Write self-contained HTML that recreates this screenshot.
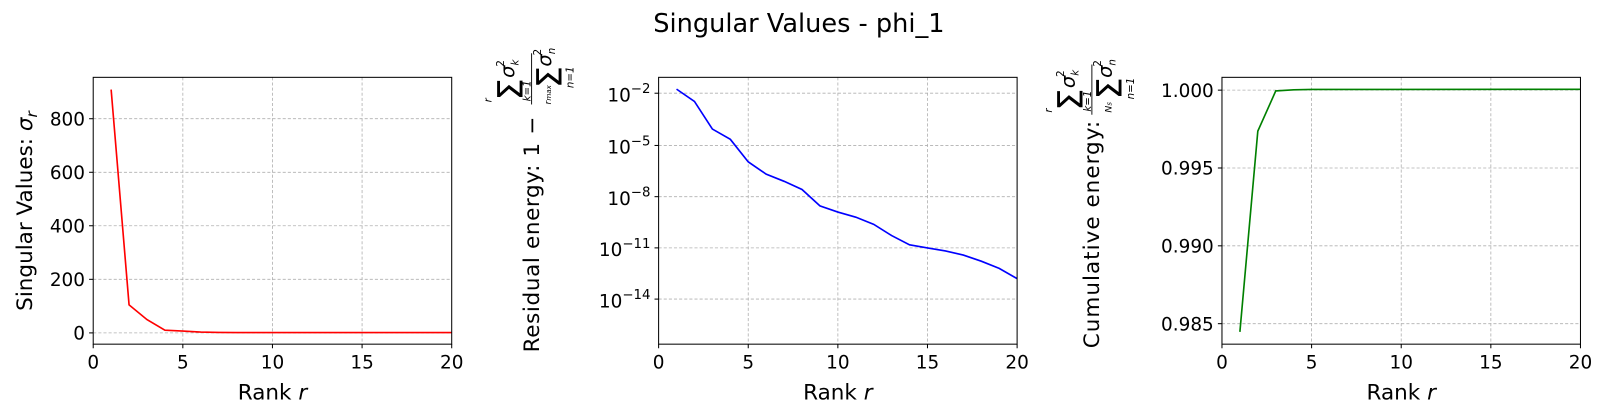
<!DOCTYPE html>
<html><head><meta charset="utf-8"><style>
html,body{margin:0;padding:0;background:#fff;}
svg{display:block;font-family:"DejaVu Sans","Liberation Sans",sans-serif;}
.t{font-size:18px;fill:#000}
.g{stroke:#b0b0b0;stroke-width:0.8;stroke-dasharray:3,2;fill:none}
.ax{stroke:#000;stroke-width:1;fill:none}
.lb{font-size:21px;fill:#000}
</style></head><body>
<svg width="1603" height="413" viewBox="0 0 1565 403.2" xmlns="http://www.w3.org/2000/svg">
<text x="780" y="31" text-anchor="middle" font-size="25">Singular Values - phi_1</text>

<!-- Panel 1 -->
<g>
<line class="g" x1="91" y1="325" x2="441" y2="325"/>
<line class="g" x1="91" y1="272.7" x2="441" y2="272.7"/>
<line class="g" x1="91" y1="220.4" x2="441" y2="220.4"/>
<line class="g" x1="91" y1="168.2" x2="441" y2="168.2"/>
<line class="g" x1="91" y1="115.9" x2="441" y2="115.9"/>
<line class="g" x1="178.5" y1="75.5" x2="178.5" y2="336"/>
<line class="g" x1="266" y1="75.5" x2="266" y2="336"/>
<line class="g" x1="353.5" y1="75.5" x2="353.5" y2="336"/>
<polyline fill="none" stroke="#ff0000" stroke-width="1.6" points="108.5,87.4 126,297.6 143.5,312 161,322.4 178.5,323.2 196,324.2 213.5,324.6 231,324.7 248.5,324.7 266,324.7 283.5,324.7 301,324.7 318.5,324.7 336,324.7 353.5,324.7 371,324.7 388.5,324.7 406,324.7 423.5,324.7 441,324.7"/>
<rect class="ax" x="91" y="75.5" width="350" height="260.5"/>
<g stroke="#000"><line x1="91" y1="336" x2="91" y2="340"/><line x1="178.5" y1="336" x2="178.5" y2="340"/><line x1="266" y1="336" x2="266" y2="340"/><line x1="353.5" y1="336" x2="353.5" y2="340"/><line x1="441" y1="336" x2="441" y2="340"/>
<line x1="87" y1="325" x2="91" y2="325"/><line x1="87" y1="272.7" x2="91" y2="272.7"/><line x1="87" y1="220.4" x2="91" y2="220.4"/><line x1="87" y1="168.2" x2="91" y2="168.2"/><line x1="87" y1="115.9" x2="91" y2="115.9"/></g>
<g class="t" text-anchor="middle"><text x="91" y="360">0</text><text x="178.5" y="360">5</text><text x="266" y="360">10</text><text x="353.5" y="360">15</text><text x="441" y="360">20</text></g>
<g class="t" text-anchor="end"><text x="83" y="331.5">0</text><text x="83" y="279.2">200</text><text x="83" y="226.9">400</text><text x="83" y="174.7">600</text><text x="83" y="122.4">800</text></g>
<text class="lb" x="266" y="390" text-anchor="middle">Rank <tspan font-style="italic">r</tspan></text>
<text class="lb" transform="translate(31,206) rotate(-90)" text-anchor="middle">Singular Values: <tspan font-style="italic">σ</tspan><tspan font-style="italic" font-size="15" dy="5">r</tspan></text>
</g>

<!-- Panel 2 -->
<g>
<line class="g" x1="643" y1="91" x2="993" y2="91"/>
<line class="g" x1="643" y1="142" x2="993" y2="142"/>
<line class="g" x1="643" y1="192" x2="993" y2="192"/>
<line class="g" x1="643" y1="242" x2="993" y2="242"/>
<line class="g" x1="643" y1="292" x2="993" y2="292"/>
<line class="g" x1="730.5" y1="75.5" x2="730.5" y2="336"/>
<line class="g" x1="818" y1="75.5" x2="818" y2="336"/>
<line class="g" x1="905.5" y1="75.5" x2="905.5" y2="336"/>
<polyline fill="none" stroke="#0000ff" stroke-width="1.6" points="660.5,87 678,99 695.5,126 713,136 730.5,158 748,170 765.5,177 783,185 800.5,201 818,207 835.5,212 853,219 870.5,230 888,239 905.5,242 923,245 940.5,249 958,255 975.5,262 993,272"/>
<rect class="ax" x="643" y="75.5" width="350" height="260.5"/>
<g stroke="#000"><line x1="643" y1="336" x2="643" y2="340"/><line x1="730.5" y1="336" x2="730.5" y2="340"/><line x1="818" y1="336" x2="818" y2="340"/><line x1="905.5" y1="336" x2="905.5" y2="340"/><line x1="993" y1="336" x2="993" y2="340"/>
<line x1="639" y1="91" x2="643" y2="91"/><line x1="639" y1="142" x2="643" y2="142"/><line x1="639" y1="192" x2="643" y2="192"/><line x1="639" y1="242" x2="643" y2="242"/><line x1="639" y1="292" x2="643" y2="292"/></g>
<g class="t" text-anchor="middle"><text x="643" y="360">0</text><text x="730.5" y="360">5</text><text x="818" y="360">10</text><text x="905.5" y="360">15</text><text x="993" y="360">20</text></g>
<g class="t" text-anchor="end">
<text x="635" y="99">10<tspan font-size="13" dy="-8">−2</tspan></text>
<text x="635" y="150">10<tspan font-size="13" dy="-8">−5</tspan></text>
<text x="635" y="200">10<tspan font-size="13" dy="-8">−8</tspan></text>
<text x="635" y="250">10<tspan font-size="13" dy="-8">−11</tspan></text>
<text x="635" y="300">10<tspan font-size="13" dy="-8">−14</tspan></text>
</g>
<text class="lb" x="818" y="390" text-anchor="middle">Rank <tspan font-style="italic">r</tspan></text>
<g transform="translate(526,344) rotate(-90)">
<text class="lb" x="0" y="0" textLength="230">Residual energy: 1 −</text>
<line x1="242" y1="-7" x2="292" y2="-7" stroke="#000" stroke-width="0.9"/>
<text x="246" y="-16" font-size="34">Σ</text>
<text x="244" y="-46" font-size="10" font-style="italic">r</text>
<text x="245" y="-8" font-size="10" font-style="italic">k=1</text>
<text x="268" y="-24" font-size="19" font-style="italic">σ</text>
<text x="279" y="-34" font-size="10">2</text>
<text x="280" y="-20" font-size="10" font-style="italic">k</text>
<text x="258" y="22" font-size="34">Σ</text>
<text x="242" y="12" font-size="9" font-style="italic">r<tspan font-size="7">max</tspan></text>
<text x="258" y="34" font-size="10" font-style="italic">n=1</text>
<text x="279" y="12" font-size="19" font-style="italic">σ</text>
<text x="290" y="2" font-size="10">2</text>
<text x="291" y="16" font-size="10" font-style="italic">n</text>
</g>
</g>

<!-- Panel 3 -->
<g>
<line class="g" x1="1193" y1="88" x2="1543" y2="88"/>
<line class="g" x1="1193" y1="164" x2="1543" y2="164"/>
<line class="g" x1="1193" y1="240" x2="1543" y2="240"/>
<line class="g" x1="1193" y1="316" x2="1543" y2="316"/>
<line class="g" x1="1280.5" y1="75.5" x2="1280.5" y2="336"/>
<line class="g" x1="1368" y1="75.5" x2="1368" y2="336"/>
<line class="g" x1="1455.5" y1="75.5" x2="1455.5" y2="336"/>
<polyline fill="none" stroke="#008000" stroke-width="1.6" points="1210.5,324 1228,128 1245.5,88.8 1263,87.7 1280.5,87.3 1543,87.2"/>
<rect class="ax" x="1193" y="75.5" width="350" height="260.5"/>
<g stroke="#000"><line x1="1193" y1="336" x2="1193" y2="340"/><line x1="1280.5" y1="336" x2="1280.5" y2="340"/><line x1="1368" y1="336" x2="1368" y2="340"/><line x1="1455.5" y1="336" x2="1455.5" y2="340"/><line x1="1543" y1="336" x2="1543" y2="340"/>
<line x1="1189" y1="88" x2="1193" y2="88"/><line x1="1189" y1="164" x2="1193" y2="164"/><line x1="1189" y1="240" x2="1193" y2="240"/><line x1="1189" y1="316" x2="1193" y2="316"/></g>
<g class="t" text-anchor="middle"><text x="1193" y="360">0</text><text x="1280.5" y="360">5</text><text x="1368" y="360">10</text><text x="1455.5" y="360">15</text><text x="1543" y="360">20</text></g>
<g class="t" text-anchor="end"><text x="1185" y="94.5">1.000</text><text x="1185" y="170.5">0.995</text><text x="1185" y="246.5">0.990</text><text x="1185" y="322.5">0.985</text></g>
<text class="lb" x="1368" y="390" text-anchor="middle">Rank <tspan font-style="italic">r</tspan></text>
<g transform="translate(1073,340) rotate(-90)">
<text class="lb" x="0" y="0" textLength="222">Cumulative energy:</text>
<line x1="228" y1="-7" x2="277" y2="-7" stroke="#000" stroke-width="0.9"/>
<text x="232" y="-16" font-size="34">Σ</text>
<text x="230" y="-46" font-size="10" font-style="italic">r</text>
<text x="231" y="-8" font-size="10" font-style="italic">k=1</text>
<text x="254" y="-24" font-size="19" font-style="italic">σ</text>
<text x="265" y="-34" font-size="10">2</text>
<text x="266" y="-20" font-size="10" font-style="italic">k</text>
<text x="243" y="22" font-size="34">Σ</text>
<text x="230" y="12" font-size="9" font-style="italic">N<tspan font-size="7">s</tspan></text>
<text x="243" y="34" font-size="10" font-style="italic">n=1</text>
<text x="264" y="12" font-size="19" font-style="italic">σ</text>
<text x="275" y="2" font-size="10">2</text>
<text x="276" y="16" font-size="10" font-style="italic">n</text>
</g>
</g>
</svg>
</body></html>
